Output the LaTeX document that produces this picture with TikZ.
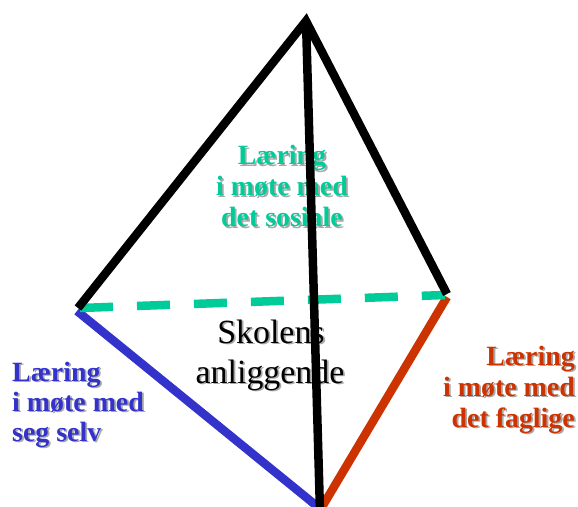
\documentclass[tikz,border=0pt]{standalone}
\usepackage{fontspec}
\setmainfont{Liberation Serif}
\usetikzlibrary{calc}
\definecolor{tgreen}{HTML}{00CC99}
\definecolor{tblue}{HTML}{3333CC}
\definecolor{tred}{HTML}{CC3300}
\definecolor{shadowc}{HTML}{A8A8A8}
\newcommand\shadowline[4]{%
  \node[#2,text=shadowc] (#1s) at ($(#3)+(1.8,1.8)$) {#4};
  \node[#2] (#1) at (#3) {#4};}
\begin{document}
\begin{tikzpicture}[x=1bp,y=-1bp,
  edge/.style={line width=8.5bp},
  lbl/.style={inner sep=0pt,font=\bfseries\fontsize{28}{31}\selectfont},
  mainlbl/.style={inner sep=0pt,font=\fontsize{34}{40}\selectfont}]
\useasboundingbox (0,0) rectangle (578,507);
% vertices
\coordinate (A) at (306,21);
\coordinate (Lb) at (78,308);
\coordinate (Rb) at (447,294);
\coordinate (Bb) at (320,512);
\coordinate (Lg) at (80,308);
\coordinate (Rg) at (445,295);
\coordinate (Lu) at (77,311);
\coordinate (Bu) at (318,507);
\coordinate (Ro) at (447,297);
\coordinate (Bo) at (322,507);
% coloured edges
\draw[edge,tblue] (Lu) -- (Bu);
\draw[edge,tred] (Ro) -- (Bo);
\draw[edge,tgreen,dash pattern=on 33bp off 24bp] (Lg) -- (Rg);
% labels
\shadowline{g1}{lbl,anchor=base,text=tgreen}{282,165}{Læring}
\shadowline{g2}{lbl,anchor=base,text=tgreen}{282,196}{i møte med}
\shadowline{g3}{lbl,anchor=base,text=tgreen}{282,227}{det sosiale}
\shadowline{b1}{lbl,anchor=base west,text=tblue}{12,381}{Læring}
\shadowline{b2}{lbl,anchor=base west,text=tblue}{12,411}{i møte med}
\shadowline{b3}{lbl,anchor=base west,text=tblue}{12,441}{seg selv}
\shadowline{r1}{lbl,anchor=base east,text=tred}{575,365}{Læring}
\shadowline{r2}{lbl,anchor=base east,text=tred}{575,396}{i møte med}
\shadowline{r3}{lbl,anchor=base east,text=tred}{575,427}{det faglige}
\shadowline{s1}{mainlbl,anchor=base,text=black}{271,343}{Skolens}
\shadowline{s2}{mainlbl,anchor=base,text=black}{270,383}{anliggende}
% black edges
\draw[edge,line join=miter] (Lb) -- (A) -- (Rb);
\draw[edge] (A) -- (Bb);
\end{tikzpicture}
\end{document}
